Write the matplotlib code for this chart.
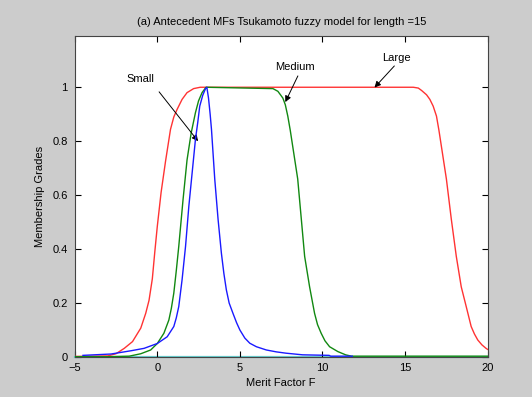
import matplotlib
matplotlib.use("Agg")
import matplotlib.pyplot as plt

plt.rcParams['font.family'] = ['Liberation Sans', 'DejaVu Sans']

# Large (red)
large_x = [-5, -3, -2.5, -2.0, -1.5, -1.0, -0.7, -0.5, -0.3, -0.15, 0.0, 0.23, 0.5, 0.8, 1.0, 1.2, 1.5, 1.8, 2.2, 2.6,
           15.5, 15.8, 16.0, 16.3, 16.5, 16.7, 16.9, 17.05, 17.2, 17.5, 17.8, 18.1, 18.4, 18.7, 19.0, 19.2, 19.4, 19.65, 19.9, 20.0]
large_y = [0.002, 0.004, 0.012, 0.032, 0.057, 0.107, 0.162, 0.21, 0.29, 0.39, 0.484, 0.61, 0.726, 0.844, 0.89, 0.918, 0.955, 0.98, 0.995, 1.0,
           1.0, 0.997, 0.988, 0.972, 0.955, 0.93, 0.893, 0.84, 0.78, 0.66, 0.51, 0.373, 0.26, 0.187, 0.113, 0.085, 0.063, 0.045, 0.032, 0.028]

# Medium (green)
medium_x = [-5, -3, -1.7, -1.0, -0.4, 0.0, 0.4, 0.7, 0.85, 1.0, 1.15, 1.3, 1.56, 1.8, 2.05, 2.31, 2.5, 2.71, 2.95,
            7.0, 7.3, 7.6, 7.75, 7.9, 8.05, 8.2, 8.5, 8.72, 8.92, 9.22, 9.52, 9.7, 9.92, 10.15, 10.43, 10.93, 11.4, 11.75, 20.0]
medium_y = [0.001, 0.001, 0.003, 0.012, 0.026, 0.05, 0.088, 0.137, 0.18, 0.237, 0.32, 0.41, 0.584, 0.73, 0.83, 0.906, 0.95, 0.98, 1.0,
            0.995, 0.985, 0.96, 0.935, 0.893, 0.84, 0.78, 0.66, 0.51, 0.373, 0.26, 0.162, 0.12, 0.088, 0.06, 0.038, 0.02, 0.008, 0.003, 0.003]

# Small (blue)
small_x = [-4.5, -2.8, -1.6, -0.8, 0.0, 0.6, 1.0, 1.15, 1.3, 1.5, 1.71, 1.91, 2.11, 2.31, 2.45, 2.57, 2.75, 2.92, 3.0,
           3.1, 3.2, 3.28, 3.48, 3.68, 3.88, 4.03, 4.18, 4.35, 4.58, 4.8, 5.0, 5.3, 5.6, 6.0, 6.6, 7.2, 7.8, 8.8, 10.4, 10.5, 11.8]
small_y = [0.006, 0.011, 0.023, 0.032, 0.05, 0.075, 0.113, 0.145, 0.187, 0.286, 0.41, 0.559, 0.683, 0.807, 0.87, 0.93, 0.97, 0.995, 1.0,
           0.96, 0.9, 0.844, 0.658, 0.51, 0.385, 0.31, 0.249, 0.2, 0.162, 0.127, 0.1, 0.07, 0.051, 0.038, 0.026, 0.019, 0.014, 0.008, 0.006, 0.003, 0.003]

# Zero line (cyan)
zero_x = [-5, 20]
zero_y = [0, 0]

x_ticks = [-5, 0, 5, 10, 15, 20]
y_ticks = [0, 0.2, 0.4, 0.6, 0.8, 1]
y_tick_labels = ['0', '0.2', '0.4', '0.6', '0.8', '1']

fig = plt.figure(figsize=(5.32, 3.97), dpi=100, facecolor='#cccccc')
ax = fig.add_axes([0.1404, 0.1008, 0.7763, 0.8085])
ax.set_facecolor('white')

ax.plot(zero_x, zero_y, color='#66cccc', lw=1.6, clip_on=False, zorder=1)
ax.plot(large_x, large_y, color='#ff3333', lw=1.0, zorder=3)
ax.plot(medium_x, medium_y, color='#118811', lw=1.0, zorder=3)
ax.plot(small_x, small_y, color='#1a1aff', lw=1.0, zorder=4)

ax.set_xlim(-5, 20)
ax.set_ylim(0, 1.19)
ax.set_xticks(x_ticks)
ax.set_yticks(y_ticks)
ax.set_yticklabels(y_tick_labels)
ax.tick_params(direction='in', length=4, width=0.8, labelsize=8, colors='black',
               top=True, right=True)
ax.tick_params(axis='x', pad=4)
ax.tick_params(axis='y', pad=5)
for s in ax.spines.values():
    s.set_color('#444444')
    s.set_linewidth(0.8)

ax.set_title('(a) Antecedent MFs Tsukamoto fuzzy model for length =15', fontsize=8, pad=8)
ax.set_xlabel('Merit Factor F', fontsize=8, labelpad=4)
ax.set_ylabel('Membership Grades', fontsize=8, labelpad=5)

arrowprops = dict(arrowstyle='-|>', color='black', lw=0.7, mutation_scale=9, shrinkA=0, shrinkB=0)
ax.annotate('', xy=(2.47, 0.80), xytext=(0.11, 0.983), arrowprops=arrowprops)
ax.text(-1.05, 1.03, 'Small', fontsize=8, ha='center', va='center')
ax.annotate('', xy=(7.75, 0.945), xytext=(8.51, 1.042), arrowprops=arrowprops)
ax.text(8.33, 1.074, 'Medium', fontsize=8, ha='center', va='center')
ax.annotate('', xy=(13.15, 0.999), xytext=(14.35, 1.079), arrowprops=arrowprops)
ax.text(14.46, 1.11, 'Large', fontsize=8, ha='center', va='center')

fig.savefig('out.png', dpi=100, facecolor=fig.get_facecolor())
